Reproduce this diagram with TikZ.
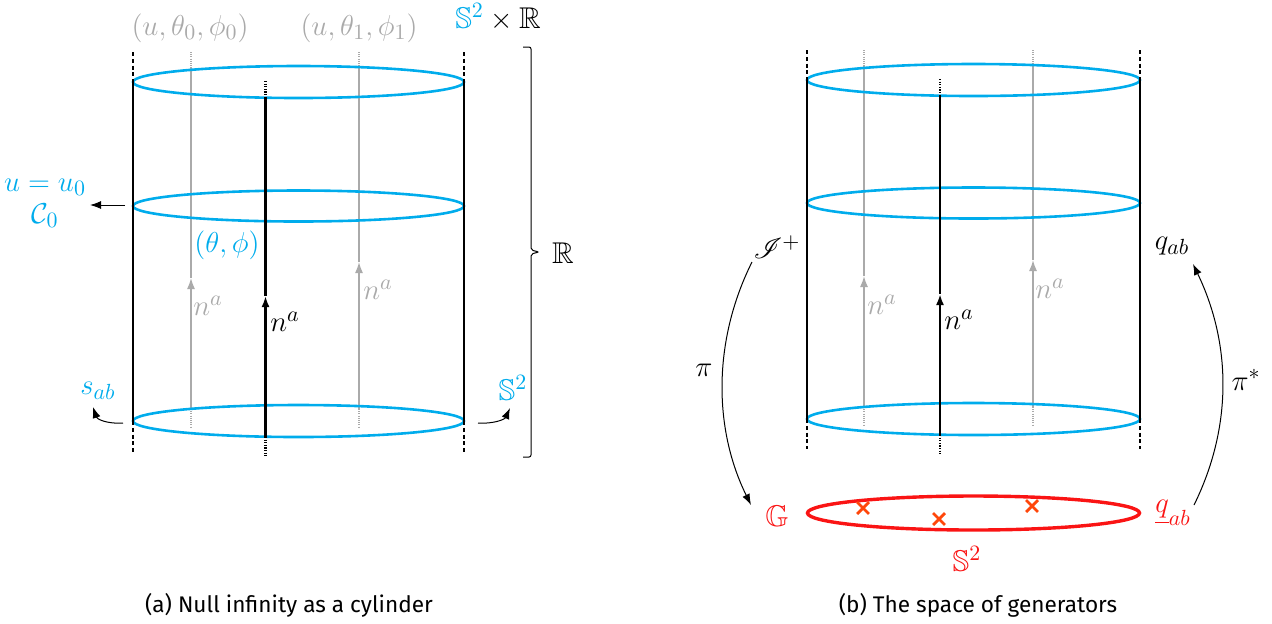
\documentclass[tikz,border=0pt]{standalone}
\usepackage{amssymb}
\usepackage{mathrsfs}
\usepackage{fontspec}
\setsansfont{Fira Sans}
\usetikzlibrary{arrows.meta,shapes.misc}
\definecolor{skyb}{RGB}{0,172,236}
\definecolor{greyc}{RGB}{170,170,170}
\definecolor{redc}{RGB}{250,20,20}
\definecolor{crossc}{RGB}{255,70,10}
\begin{document}
\begin{tikzpicture}[x=0.5pt,y=-0.5pt,
  lbl/.style={inner sep=0pt,font=\fontsize{15}{17}\selectfont},
  captext/.style={inner sep=0pt,font=\sffamily\fontsize{11.3}{13}\selectfont},
  ring/.style={draw=skyb,line width=1.3pt},
  redring/.style={draw=redc,line width=1.7pt},
  edgeline/.style={line width=1.2pt},
  edgedash/.style={line width=1.2pt,dash pattern=on 2pt off 1.4pt},
  greyline/.style={draw=greyc,line width=0.75pt},
  greydot/.style={draw=greyc,line width=0.75pt,dash pattern=on 0.5pt off 0.6pt},
  blackdot/.style={line width=1.1pt,dash pattern=on 0.6pt off 0.7pt},
  arrowtip/.style={-{Latex[length=5.5pt,width=4pt]}},
  thinline/.style={line width=0.5pt},
  xmark/.style={cross out,draw=crossc,line width=1.4pt,minimum size=4.5pt,inner sep=0pt}
]
\useasboundingbox (0,0) rectangle (1272,623);

% ===================== LEFT PANEL =====================
\foreach \gx/\gt in {191/278,359/262}{
  \draw[greydot] (\gx,52) -- (\gx,67);
  \draw[greyline] (\gx,67) -- (\gx,\gt);
  \draw[greyline,arrowtip] (\gx,409) -- (\gx,\gt);
  \draw[greydot] (\gx,409) -- (\gx,428);
}
\draw[ring] (298.5,82) ellipse [x radius=82.75pt,y radius=8pt];
\draw[ring] (298.5,206) ellipse [x radius=82.75pt,y radius=7.75pt];
\draw[ring] (298.5,421) ellipse [x radius=82.75pt,y radius=8pt];
\draw[edgedash] (133,52) -- (133,82);
\draw[edgeline] (133,82) -- (133,421);
\draw[edgedash] (133,421) -- (133,452);
\draw[edgedash] (464,52) -- (464,82);
\draw[edgeline] (464,82) -- (464,421);
\draw[edgedash] (464,421) -- (464,452);
\draw[blackdot] (265.5,81) -- (265.5,98);
\draw[edgeline] (265.5,98) -- (265.5,296);
\draw[edgeline,arrowtip] (265.5,437) -- (265.5,296);
\draw[blackdot] (265.5,437) -- (265.5,456);

\node[lbl,text=greyc] (p0) at (190,28) {$(u,\theta_0,\phi_0)$};
\node[lbl,text=greyc] (p1) at (359,28) {$(u,\theta_1,\phi_1)$};
\node[lbl] (prod) at (498,17) {$\textcolor{skyb}{\mathbb{S}^2}\times\mathbb{R}$};
\node[lbl,text=skyb,align=center] (ulbl) at (45,203) {$u=u_0$\\[-1pt]$\mathcal{C}_0$};
\node[lbl,text=skyb] (tp) at (227,245) {$(\theta,\phi)$};
\node[lbl,text=greyc] (naA) at (208,306) {$n^a$};
\node[lbl,text=greyc] (naB) at (378,290) {$n^a$};
\node[lbl] (naC) at (285,322) {$n^a$};
\node[lbl,text=skyb] (sab) at (98,391) {$s_{ab}$};
\node[lbl,text=skyb] (s2a) at (513,388) {$\mathbb{S}^2$};
\node[lbl] (rlbl) at (563,253) {$\mathbb{R}$};

\coordinate (uA) at (125,205);
\coordinate (uB) at (90,205);
\draw[thinline,arrowtip] (uA) -- (uB);
\coordinate (sA) at (123,423);
\coordinate (sB) at (93,407);
\draw[thinline,arrowtip] (sA) .. controls (106,424) and (97,419) .. (sB);
\coordinate (tA) at (478,423);
\coordinate (tB) at (510,408);
\draw[thinline,arrowtip] (tA) .. controls (495,424) and (505,419) .. (tB);

\coordinate (bT) at (523,47);
\coordinate (bB) at (523,457);
\draw[thinline,rounded corners=1pt] (bT) -- (531,47) -- (531,250) -- (539,252) -- (531,254) -- (531,457) -- (bB);

% ===================== RIGHT PANEL =====================
\foreach \gx/\gt in {864/276,1033/260}{
  \draw[greydot] (\gx,50) -- (\gx,65);
  \draw[greyline] (\gx,65) -- (\gx,\gt);
  \draw[greyline,arrowtip] (\gx,407) -- (\gx,\gt);
  \draw[greydot] (\gx,407) -- (\gx,426);
}
\draw[ring] (973.5,80) ellipse [x radius=83.25pt,y radius=8pt];
\draw[ring] (973.5,203) ellipse [x radius=83.25pt,y radius=7.75pt];
\draw[ring] (973.5,419) ellipse [x radius=83.25pt,y radius=8pt];
\draw[edgedash] (807,50) -- (807,80);
\draw[edgeline] (807,80) -- (807,419);
\draw[edgedash] (807,419) -- (807,449);
\draw[edgedash] (1140,50) -- (1140,80);
\draw[edgeline] (1140,80) -- (1140,419);
\draw[edgedash] (1140,419) -- (1140,449);
\draw[blackdot] (940,79) -- (940,95);
\draw[edgeline] (940,95) -- (940,294);
\draw[edgeline,arrowtip] (940,435) -- (940,294);
\draw[blackdot] (940,435) -- (940,454);

\node[lbl,text=greyc] (naD) at (882,305) {$n^a$};
\node[lbl,text=greyc] (naE) at (1050,289) {$n^a$};
\node[lbl] (naF) at (959,320) {$n^a$};

\draw[redring] (973.5,513) ellipse [x radius=83pt,y radius=8.5pt];
\node[xmark] (x1) at (863,508) {};
\node[xmark] (x2) at (939,519) {};
\node[xmark] (x3) at (1032,506) {};
\node[lbl,text=redc] (G) at (777,516) {$\mathbb{G}$};
\node[lbl,text=redc] (s2b) at (967,559) {$\mathbb{S}^2$};
\node[lbl,text=redc] (qb) at (1173,513) {$\underline{q}_{ab}$};
\node[lbl] (scri) at (777,247) {$\mathscr{I}^+$};
\node[lbl] (qab) at (1172,246) {$q_{ab}$};
\node[lbl] (pi) at (704,370) {$\pi$};
\node[lbl] (pis) at (1246,380) {$\pi^*$};

\coordinate (piA) at (752,262);
\coordinate (piB) at (751,505);
\draw[thinline,arrowtip] (piA) .. controls (713,340) and (713,428) .. (piB);
\coordinate (psA) at (1194,505);
\coordinate (psB) at (1193,264);
\draw[thinline,arrowtip] (psA) .. controls (1232,428) and (1232,345) .. (psB);

\node[captext] (capa) at (289,605) {(a) Null infinity as a cylinder};
\node[captext] (capb) at (978,605) {(b) The space of generators};
\end{tikzpicture}
\end{document}
